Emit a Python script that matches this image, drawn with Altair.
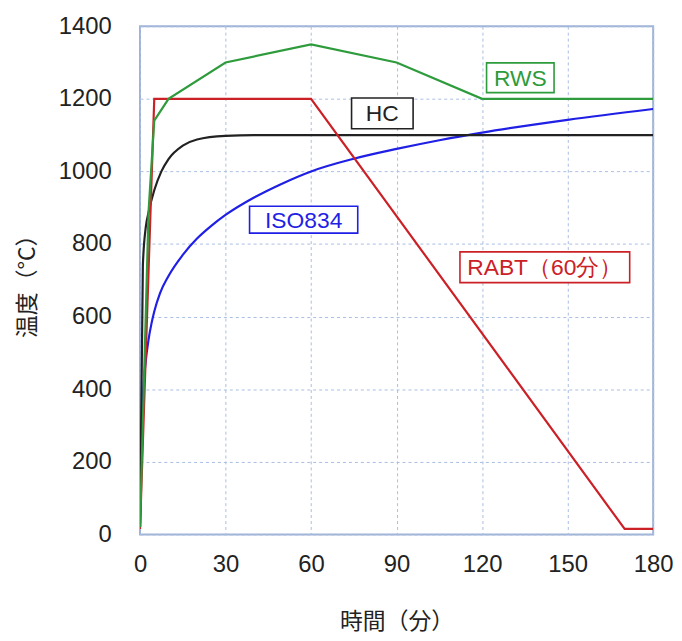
import altair as alt
import pandas as pd

# ---- data ----
rws_t = [0, 3, 5, 10, 30, 60, 90, 120, 180]
rws_v = [20, 890, 1140, 1200, 1300, 1350, 1300, 1200, 1200]

rabt_t = [0, 5, 60, 170, 180]
rabt_v = [15, 1200, 1200, 15, 15]

hc_t = [0, 1, 2, 3, 5, 7.5, 10, 15, 20, 30, 40, 60, 180]
hc_v = [20, 740, 845, 887, 948, 1000, 1034, 1071, 1088, 1098, 1100, 1100, 1100]

iso_t = [0, 1, 2, 3, 4, 5, 7, 10, 15, 20, 25, 30, 40, 50, 60, 75, 90, 105, 120, 150, 180]
iso_v = [20, 376, 476, 537, 580, 614, 664, 712, 770, 815, 850, 880, 928, 967, 1000,
         1035, 1062, 1086, 1107, 1142, 1172]

series_names = ["RWS", "RABT", "HC", "ISO834"]
series_colors = ["#2e9b3c", "#cc2027", "#222222", "#1f1fe6"]

label_text = ["RWS", "HC", "ISO834", "RABT（60分）"]
label_series = ["RWS", "HC", "ISO834", "RABT"]
label_x = [133.4, 85.0, 57.4, 142.0]
label_y = [1258, 1160, 867, 736]
label_wpx = [68, 62, 109, 171]
label_hpx = [30, 31, 27, 31]

x_ticks = [0, 30, 60, 90, 120, 150, 180]
y_ticks = [0, 200, 400, 600, 800, 1000, 1200, 1400]

W, H = 517, 512
XMAX, YMAX = 180, 1400

rows = []
for name, ts, vs in [("RWS", rws_t, rws_v), ("RABT", rabt_t, rabt_v),
                     ("HC", hc_t, hc_v), ("ISO834", iso_t, iso_v)]:
    for i, (t, v) in enumerate(zip(ts, vs)):
        rows.append({"series": name, "t": t, "v": v, "o": i})
df = pd.DataFrame(rows)

sx = XMAX / W
sy = YMAX / H
lab = pd.DataFrame({
    "text": label_text, "series": label_series,
    "x": label_x, "y": label_y,
})
lab["x1"] = [x - w * sx / 2 for x, w in zip(label_x, label_wpx)]
lab["x2"] = [x + w * sx / 2 for x, w in zip(label_x, label_wpx)]
lab["y1"] = [y - h * sy / 2 for y, h in zip(label_y, label_hpx)]
lab["y2"] = [y + h * sy / 2 for y, h in zip(label_y, label_hpx)]

color = alt.Color("series:N", scale=alt.Scale(domain=series_names, range=series_colors), legend=None)

xs = alt.Scale(domain=[0, XMAX], nice=False, zero=True)
ys = alt.Scale(domain=[0, YMAX], nice=False)

xax = alt.Axis(values=x_ticks, title="時間（分）", grid=True, ticks=False, domain=False,
               format="d", labelFlush=False, labelPadding=18, titlePadding=35,
               labelFontSize=24, titleFontSize=23,
               labelFont="Liberation Sans", titleFont="Noto Sans CJK JP",
               labelColor="#222", titleColor="#222", titleFontWeight="normal",
               gridColor="#a9bde2", gridDash=[3, 3], gridWidth=1)
yax = alt.Axis(values=y_ticks, title="温度（°C）", grid=True, ticks=False, domain=False,
               format="d", labelFlush=False, labelPadding=29, titlePadding=19,
               labelFontSize=24, titleFontSize=23,
               labelFont="Liberation Sans", titleFont="Noto Sans CJK JP",
               labelColor="#222", titleColor="#222", titleFontWeight="normal",
               gridColor="#a9bde2", gridDash=[3, 3], gridWidth=1)

base = alt.Chart(df)

def line(name, interp):
    return base.transform_filter(alt.datum.series == name).mark_line(
        strokeWidth=2.2, interpolate=interp, clip=True
    ).encode(
        x=alt.X("t:Q", scale=xs, axis=xax),
        y=alt.Y("v:Q", scale=ys, axis=yax),
        color=color,
        order="o:Q",
    )

lines = [line("ISO834", "monotone"), line("HC", "monotone"),
         line("RABT", "linear"), line("RWS", "linear")]

boxes = alt.Chart(lab).mark_rect(fill="white", strokeWidth=1.6).encode(
    x="x1:Q", x2="x2:Q", y="y1:Q", y2="y2:Q",
    stroke=alt.Stroke("series:N", scale=alt.Scale(domain=series_names, range=series_colors), legend=None),
)
texts = alt.Chart(lab).mark_text(fontSize=23, font="Liberation Sans", baseline="middle",
                                 align="center", dy=1).encode(
    x="x:Q", y="y:Q", text="text:N", color=color,
)

chart = alt.layer(*lines, boxes, texts).properties(
    width=W, height=H, padding={"left": 8, "top": 4, "right": 0, "bottom": 1}
).configure_view(stroke="#9fb3d6", strokeWidth=2)

chart.save("out.html", embed_options={"renderer": "svg", "actions": False})
